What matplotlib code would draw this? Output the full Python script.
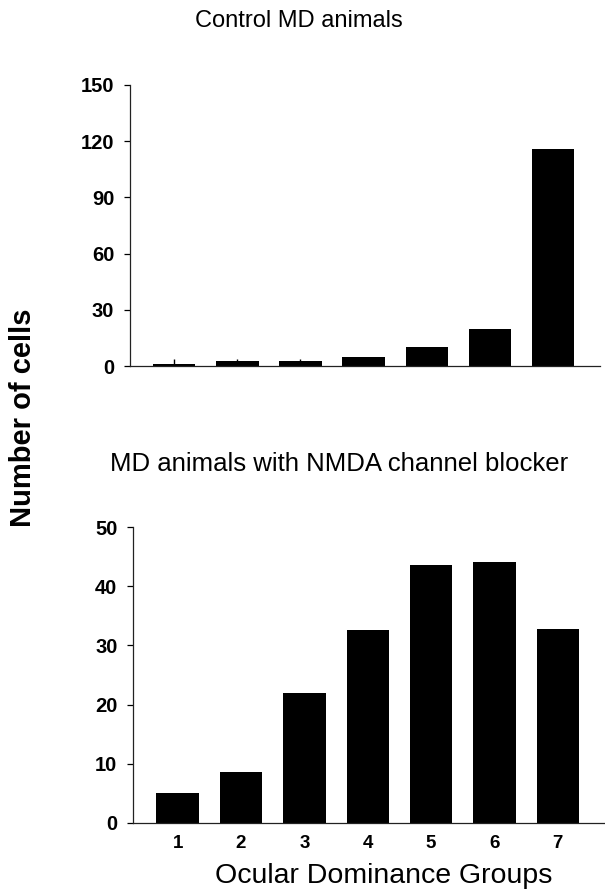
import numpy as np
import matplotlib
matplotlib.use("Agg")
import matplotlib.pyplot as plt

plt.rcParams['font.family'] = ['Liberation Sans', 'DejaVu Sans']

# ocular dominance groups 1..7
groups = [1, 2, 3, 4, 5, 6, 7]
control_cells = [1, 2.7, 2.7, 5, 10, 19.6, 115.7]
control_err = [2.7, 1.3, 1.3, 0, 0, 0, 0]
blocker_cells = [5.0, 8.5, 22.0, 32.7, 43.7, 44.1, 32.8]

fig = plt.figure(figsize=(6.05, 8.96), dpi=100)

def style(ax, yticks, ymax):
    ax.set_xlim(0.29, 7.74)
    ax.set_ylim(0, ymax)
    ax.set_yticks(yticks)
    for s in ['top', 'right']:
        ax.spines[s].set_visible(False)
    for s in ['left', 'bottom']:
        ax.spines[s].set_linewidth(0.9)
        ax.spines[s].set_color('#222222')
    ax.tick_params(axis='y', direction='out', length=4, width=0.9, pad=7,
                   labelsize=14.5)
    for t in ax.get_yticklabels():
        t.set_fontweight('bold')

# top panel
ax1 = fig.add_axes([129.5/605, 1 - 366/896, 470/605, 281/896])
ax1.bar(groups, control_cells, width=0.67, color='black')
ax1.errorbar(groups, control_cells, yerr=[[0]*7, control_err], fmt='none',
             ecolor='black', elinewidth=1, capsize=0)
style(ax1, [0, 30, 60, 90, 120, 150], 150)
ax1.set_xticks([])

# bottom panel
ax2 = fig.add_axes([132.7/605, 1 - 822.7/896, 472/605, 295.4/896])
ax2.bar(groups, blocker_cells, width=0.67, color='black')
style(ax2, [0, 10, 20, 30, 40, 50], 50)
ax2.set_xticks(groups)
ax2.tick_params(axis='x', length=0, pad=9, labelsize=13.5)
for t in ax2.get_xticklabels():
    t.set_fontweight('bold')

fig.text(299/605, 1 - 21/896, 'Control MD animals', ha='center', va='center',
         fontsize=17)
fig.text(339/605, 1 - 464/896, 'MD animals with NMDA channel blocker',
         ha='center', va='center', fontsize=18.5)
fig.text(23/605, 1 - 418/896, 'Number of cells', rotation=90, ha='center',
         va='center', fontsize=21, fontweight='bold')
fig.text(384/605, 1 - 876/896, 'Ocular Dominance Groups', ha='center',
         va='center', fontsize=20.5)

fig.savefig('out.png', dpi=100)
